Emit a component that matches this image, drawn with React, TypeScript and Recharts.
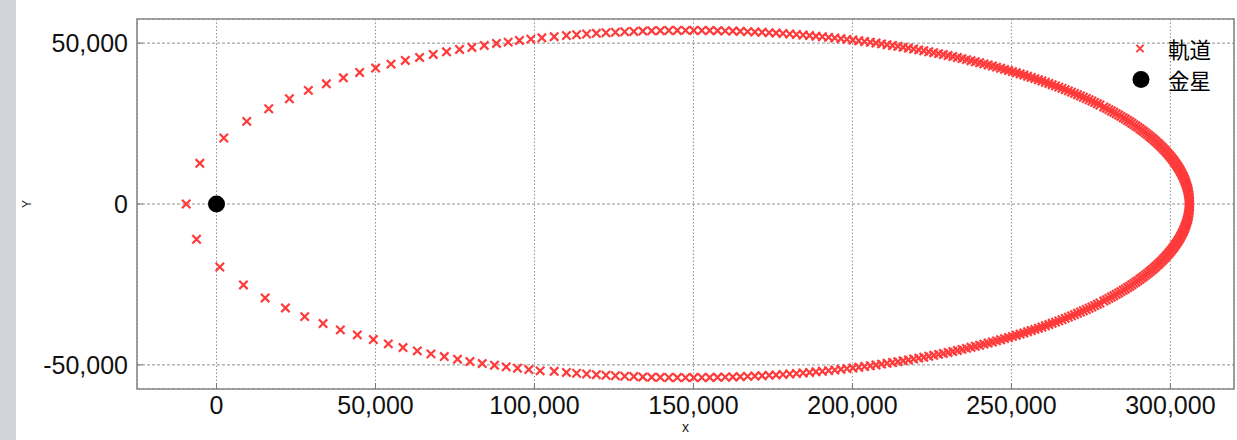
import React from 'react'
import { ScatterChart, Scatter, XAxis, YAxis, CartesianGrid, Legend, ReferenceArea } from 'recharts'

// orbit samples [x, y] (km)
// sparse arc around periapsis, upper side (first entry is the periapsis pass)
const upperNear: [number, number][] = [
  [-9520, 0], [-5250, 12640], [2290, 20500], [9520, 25680], [16430, 29600], [22930, 32700],
  [28900, 35310], [34560, 37360], [39900, 39220], [45020, 40900], [50050, 42240], [54890, 43480],
  [59380, 44630], [63870, 45560], [68170, 46490], [72350, 47300], [76440, 48040], [80330, 48660],
  [84200, 49290], [88060, 49910], [91740, 50310], [95290, 50840], [98870, 51240], [102330, 51650],
]

// sparse arc around periapsis, lower side
const lowerNear: [number, number][] = [
  [-6280, -10960], [1040, -19570], [8480, -25160], [15300, -29190], [21680, -32300], [27740, -35000],
  [33520, -37170], [38960, -39130], [44300, -40680], [49330, -42140], [54040, -43480], [58660, -44630],
  [63150, -45650], [67450, -46580], [71630, -47420], [75810, -48230], [79700, -48970], [83570, -49600],
  [87430, -50100], [91110, -50620], [94660, -51030], [98240, -51460], [101790, -51860],
]

// top of the ellipse, from x ~106k out to where the band turns down
const upperFar: [number, number][] = [
  [106200, 52009], [110052, 52356], [113249, 52616], [116386, 52848], [119466, 53056], [122490, 53236],
  [125461, 53395], [128381, 53531], [131252, 53646], [134075, 53742], [136852, 53819], [139584, 53879],
  [142273, 53921], [144920, 53948], [147526, 53959], [150093, 53956], [152621, 53939], [155112, 53909],
  [157566, 53866], [159985, 53811], [162369, 53743], [164719, 53665], [167036, 53576], [169321, 53476],
  [171574, 53367], [173797, 53248], [175989, 53119], [178152, 52981], [180286, 52835], [182391, 52680],
  [184469, 52518], [186519, 52347], [188542, 52169], [190539, 51984], [192510, 51792], [194456, 51593],
  [196377, 51387], [198273, 51174], [200145, 50956], [201993, 50731], [203818, 50501], [205620, 50264],
  [207399, 50023], [209155, 49775], [210890, 49522], [212603, 49265], [214294, 49003], [215964, 48735],
  [217613, 48463], [219242, 48186], [220850, 47905], [222438, 47620], [224006, 47330], [225555, 47036],
  [227085, 46737], [228595, 46436], [230086, 46130], [231559, 45821], [233013, 45507], [234449, 45191],
  [235867, 44870], [237267, 44547], [238649, 44220], [240014, 43890], [241362, 43556], [242692, 43220],
  [244005, 42881], [245301, 42538], [246581, 42193], [247844, 41845], [249091, 41495], [250322, 41141],
  [251536, 40785], [252734, 40426], [253916, 40065], [255083, 39701], [256234, 39335], [257370, 38967],
  [258490, 38596], [259595, 38223], [260685, 37848], [261760, 37471], [262820, 37091], [263865, 36710],
  [264896, 36327], [265912, 35941], [266914, 35554], [267901, 35165], [268874, 34774], [269833, 34380],
  [270778, 33985], [271709, 33588], [272626, 33191], [273529, 32791], [274418, 32389], [275294, 31987],
  [276156, 31582], [277005, 31177], [277840, 30769],
]

const lowerFar: [number, number][] = [
  [106200, -52009], [110052, -52356], [113249, -52616], [116386, -52848], [119466, -53056], [122490, -53236],
  [125461, -53395], [128381, -53531], [131252, -53646], [134075, -53742], [136852, -53819], [139584, -53879],
  [142273, -53921], [144920, -53948], [147526, -53959], [150093, -53956], [152621, -53939], [155112, -53909],
  [157566, -53866], [159985, -53811], [162369, -53743], [164719, -53665], [167036, -53576], [169321, -53476],
  [171574, -53367], [173797, -53248], [175989, -53119], [178152, -52981], [180286, -52835], [182391, -52680],
  [184469, -52518], [186519, -52347], [188542, -52169], [190539, -51984], [192510, -51792], [194456, -51593],
  [196377, -51387], [198273, -51174], [200145, -50956], [201993, -50731], [203818, -50501], [205620, -50264],
  [207399, -50023], [209155, -49775], [210890, -49522], [212603, -49265], [214294, -49003], [215964, -48735],
  [217613, -48463], [219242, -48186], [220850, -47905], [222438, -47620], [224006, -47330], [225555, -47036],
  [227085, -46737], [228595, -46436], [230086, -46130], [231559, -45821], [233013, -45507], [234449, -45191],
  [235867, -44870], [237267, -44547], [238649, -44220], [240014, -43890], [241362, -43556], [242692, -43220],
  [244005, -42881], [245301, -42538], [246581, -42193], [247844, -41845], [249091, -41495], [250322, -41141],
  [251536, -40785], [252734, -40426], [253916, -40065], [255083, -39701], [256234, -39335], [257370, -38967],
  [258490, -38596], [259595, -38223], [260685, -37848], [261760, -37471], [262820, -37091], [263865, -36710],
  [264896, -36327], [265912, -35941], [266914, -35554], [267901, -35165], [268874, -34774], [269833, -34380],
  [270778, -33985], [271709, -33588], [272626, -33191], [273529, -32791], [274418, -32389], [275294, -31987],
  [276156, -31582], [277005, -31177], [277840, -30769],
]

// solid band around apoapsis
const upperApex: [number, number][] = [
  [306000, 0], [305994, 458], [305977, 915], [305949, 1373], [305909, 1830], [305858, 2288],
  [305796, 2745], [305722, 3202], [305637, 3660], [305540, 4117], [305432, 4574], [305313, 5030],
  [305182, 5487], [305040, 5943], [304887, 6399], [304722, 6855], [304545, 7311], [304358, 7766],
  [304158, 8221], [303948, 8676], [303725, 9130], [303492, 9584], [303246, 10038], [302990, 10491],
  [302721, 10944], [302442, 11396], [302150, 11848], [301847, 12300], [301532, 12751], [301206, 13201],
  [300867, 13652], [300518, 14101], [300157, 14550], [299784, 14998], [299399, 15446], [299001, 15894],
  [298593, 16340], [298172, 16786], [297740, 17231], [297295, 17676], [296839, 18120], [296371, 18563],
  [295891, 19005], [295398, 19447], [294894, 19888], [294377, 20328], [293849, 20767], [293308, 21205],
  [292756, 21642], [292189, 22079], [291612, 22514], [291022, 22949], [290420, 23382], [289804, 23815],
  [289176, 24247], [288536, 24677], [287884, 25106], [287218, 25535], [286540, 25962], [285849, 26388],
  [285145, 26813], [284428, 27237], [283699, 27659], [282955, 28081], [282198, 28501], [281429, 28920],
  [280647, 29337], [279849, 29754], [279039, 30169],
]

const lowerApex: [number, number][] = [
  [305994, -458], [305977, -915], [305949, -1373], [305909, -1830], [305858, -2288],
  [305796, -2745], [305722, -3202], [305637, -3660], [305540, -4117], [305432, -4574], [305313, -5030],
  [305182, -5487], [305040, -5943], [304887, -6399], [304722, -6855], [304545, -7311], [304358, -7766],
  [304158, -8221], [303948, -8676], [303725, -9130], [303492, -9584], [303246, -10038], [302990, -10491],
  [302721, -10944], [302442, -11396], [302150, -11848], [301847, -12300], [301532, -12751], [301206, -13201],
  [300867, -13652], [300518, -14101], [300157, -14550], [299784, -14998], [299399, -15446], [299001, -15894],
  [298593, -16340], [298172, -16786], [297740, -17231], [297295, -17676], [296839, -18120], [296371, -18563],
  [295891, -19005], [295398, -19447], [294894, -19888], [294377, -20328], [293849, -20767], [293308, -21205],
  [292756, -21642], [292189, -22079], [291612, -22514], [291022, -22949], [290420, -23382], [289804, -23815],
  [289176, -24247], [288536, -24677], [287884, -25106], [287218, -25535], [286540, -25962], [285849, -26388],
  [285145, -26813], [284428, -27237], [283699, -27659], [282955, -28081], [282198, -28501], [281429, -28920],
  [280647, -29337], [279849, -29754], [279039, -30169],
]

const venus: [number, number][] = [[0, 0]]

const xTicks = [0, 50000, 100000, 150000, 200000, 250000, 300000]
const yTicks = [-50000, 0, 50000]
const orbitName = '軌道'
const venusName = '金星'

const toPoints = (rows: [number, number][]) => rows.map(([x, y]) => ({ x, y }))
const orbit = toPoints([...upperNear, ...upperFar, ...upperApex, ...lowerApex, ...lowerFar, ...lowerNear])
const planet = toPoints(venus)

const RED = '#ff3a3a'
const FONT = '"Liberation Sans", Arial, Helvetica, sans-serif'
const CJK = '"Noto Sans CJK JP", "Noto Sans CJK SC", sans-serif'
const fmt = (v: number) => v.toLocaleString('en-US')

const crossPath = (cx: number, cy: number, h: number) =>
  `M${cx - h},${cy - h}L${cx + h},${cy + h}M${cx - h},${cy + h}L${cx + h},${cy - h}`

const Cross = (props: any) => {
  const { cx, cy } = props
  if (cx == null || cy == null) return null
  return <path d={crossPath(cx, cy, 4.2)} stroke={RED} strokeWidth={2.2} fill="none" />
}

const Dot = (props: any) => {
  const { cx, cy } = props
  if (cx == null || cy == null) return null
  return <circle cx={cx} cy={cy} r={8.5} fill="#000" />
}

// legend rows are ~31px apart, text kept small enough that the rows don't collide
const LegendBox = (props: any) => {
  const payload = props.payload || []
  return (
    <div style={{ fontFamily: CJK, fontSize: 21.5, color: '#000' }}>
      {payload.map((entry: any) => (
        <div key={entry.value} style={{ display: 'flex', alignItems: 'center', height: 31.2 }}>
          <svg width={30} height={31} style={{ display: 'block' }}>
            {entry.type === 'cross' ? (
              <path d={crossPath(14, 15.5, 3.6)} stroke={RED} strokeWidth={2} fill="none" />
            ) : (
              <circle cx={15} cy={15.5} r={8.5} fill="#000" />
            )}
          </svg>
          <span style={{ marginLeft: 12, lineHeight: '31px' }}>{entry.value}</span>
        </div>
      ))}
    </div>
  )
}

export default function App() {
  return (
    <div style={{ position: 'absolute', left: 0, top: 0, width: 1237, height: 440, background: '#fff' }}>
      <div style={{ position: 'absolute', left: 0, top: 0, width: 16, height: 440, background: '#d3d4d9' }} />
      <ScatterChart width={1237} height={440} margin={{ top: 19, right: 3, bottom: 0, left: 0 }}>
        <CartesianGrid horizontal={false} stroke="#8f8f8f" strokeDasharray="1.5 2" />
        <CartesianGrid vertical={false} stroke="#8f8f8f" strokeDasharray="3 2" />
        <XAxis
          type="number"
          dataKey="x"
          domain={[-25000, 320000]}
          ticks={xTicks}
          interval={0}
          allowDataOverflow
          tickFormatter={fmt}
          height={51}
          axisLine={false}
          tickSize={-6}
          tickMargin={13}
          tickLine={{ stroke: '#777' }}
          tick={{ fontSize: 25, fill: '#111', fontFamily: FONT }}
          label={{ value: 'x', position: 'insideBottom', offset: 8, fontSize: 14, fill: '#222', fontFamily: FONT }}
        />
        <YAxis
          type="number"
          dataKey="y"
          domain={[-57500, 57500]}
          ticks={yTicks}
          interval={0}
          allowDataOverflow
          tickFormatter={fmt}
          width={137}
          axisLine={false}
          tickSize={-6}
          tickMargin={15}
          tickLine={{ stroke: '#777' }}
          tick={{ fontSize: 25, fill: '#111', fontFamily: FONT }}
          label={{
            value: 'Y',
            angle: -90,
            position: 'insideLeft',
            offset: 27,
            fontSize: 12,
            fill: '#222',
            fontFamily: FONT,
            style: { textAnchor: 'middle' },
          }}
        />
        <ReferenceArea
          x1={-25000}
          x2={320000}
          y1={-57500}
          y2={57500}
          fill="none"
          fillOpacity={0}
          stroke="#8a8a8a"
          strokeWidth={1.6}
        />
        <Legend
          layout="vertical"
          align="center"
          verticalAlign="middle"
          content={<LegendBox />}
          wrapperStyle={{ left: 1126, top: 32.5, width: 110 }}
        />
        <Scatter name={orbitName} data={orbit} fill={RED} legendType="cross" shape={Cross} isAnimationActive={false} />
        <Scatter name={venusName} data={planet} fill="#000" legendType="circle" shape={Dot} isAnimationActive={false} />
      </ScatterChart>
    </div>
  )
}
